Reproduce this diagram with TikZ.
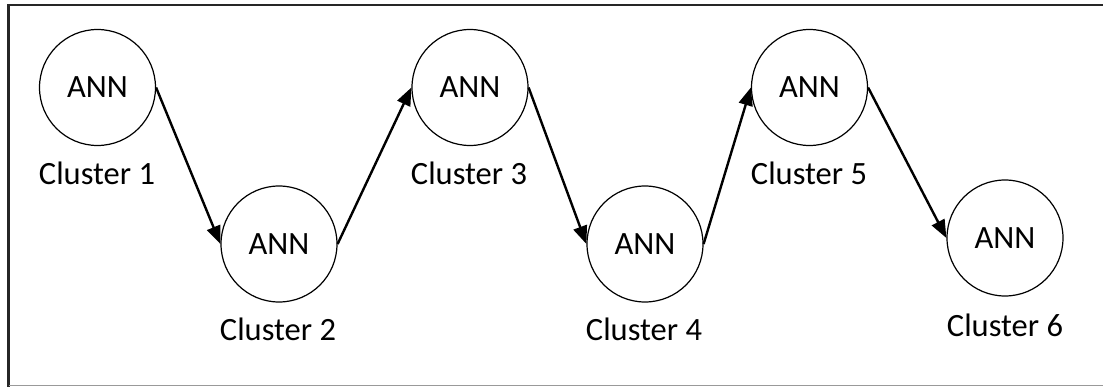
\documentclass[tikz,border=0pt]{standalone}
\usepackage{fontspec}
\setmainfont{Carlito}
\usetikzlibrary{arrows.meta}
\begin{document}
\begin{tikzpicture}[x=1pt,y=-1pt,
  ann/.style={circle,draw=black,line width=1.2pt,minimum size=116pt,inner sep=0pt,font=\fontsize{32.5}{38}\selectfont},
  lbl/.style={font=\fontsize{32.5}{38}\selectfont,inner sep=0pt},
  conn/.style={line width=2.4pt,-{Triangle[length=18pt,width=14pt]}}]
\useasboundingbox (0,0) rectangle (1103,387);
\draw[line width=2.2pt,black!85] (8.5,387) -- (8.5,5) -- (1103,5);
\draw[line width=1.6pt,black!40] (8.5,385.5) -- (1103,385.5);
\node[ann] (c1) at (97.5,87.5) {ANN};
\node[ann] (c2) at (279,244) {ANN};
\node[ann] (c3) at (470,87.5) {ANN};
\node[ann] (c4) at (645,244) {ANN};
\node[ann] (c5) at (809.5,87.5) {ANN};
\node[ann] (c6) at (1005,238) {ANN};
\node[lbl] (l1) at (97,173) {Cluster 1};
\node[lbl] (l2) at (278,329) {Cluster 2};
\node[lbl] (l3) at (469,173) {Cluster 3};
\node[lbl] (l4) at (644,329) {Cluster 4};
\node[lbl] (l5) at (809,173) {Cluster 5};
\node[lbl] (l6) at (1005,325) {Cluster 6};
\draw[conn] (c1.east) -- (c2.west);
\draw[conn] (c2.east) -- (c3.west);
\draw[conn] (c3.east) -- (c4.west);
\draw[conn] (c4.east) -- (c5.west);
\draw[conn] (c5.east) -- (c6.west);
\end{tikzpicture}
\end{document}
